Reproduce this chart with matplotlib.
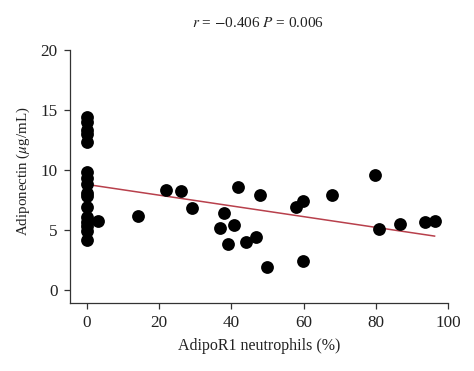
import numpy as np
import matplotlib
matplotlib.use("Agg")
from matplotlib import pyplot as plt

# AdipoR1 neutrophils (%) vs adiponectin (ug/mL)
adipor1 = [0, 0, 0, 0, 0, 0, 0, 0, 0, 0, 0, 0, 0, 0, 0, 0,
           3, 14, 22, 26, 29, 37.9, 36.8, 40.8, 39, 41.9, 44, 46.9, 47.8,
           49.8, 57.8, 59.8, 59.8, 67.8, 79.9, 80.8, 86.7, 93.6, 96.3]
adiponectin = [14.4, 14.0, 13.3, 13.0, 12.3, 9.8, 9.3, 8.8, 8.1, 7.8, 6.9, 6.1, 5.7, 5.3, 4.9, 4.2,
               5.75, 6.2, 8.35, 8.25, 6.8, 6.45, 5.15, 5.45, 3.8, 8.55, 4.0, 4.45, 7.95,
               1.9, 6.9, 7.4, 2.4, 7.95, 9.6, 5.05, 5.5, 5.65, 5.75]

fit_intercept = 8.8
fit_slope = -0.0447
fit_x = [0, 96.3]

plt.rcParams['font.family'] = ['Liberation Serif', 'DejaVu Serif']
plt.rcParams['font.size'] = 11.5
plt.rcParams['mathtext.fontset'] = 'stix'

fig = plt.figure(figsize=(4.74, 3.71), dpi=100)
ax = fig.add_axes([0.1477, 0.1833, 0.7973, 0.6818])

ax.scatter(adipor1, adiponectin, s=85, color='black', zorder=3, linewidths=0)
fx = np.array(fit_x)
ax.plot(fx, fit_intercept + fit_slope * fx, color='#b8404c', lw=1.1, zorder=2)

ax.set_xlim(-4.7, 100)
ax.set_ylim(-1.08, 20)
ax.set_xticks([0, 20, 40, 60, 80, 100])
ax.set_yticks([0, 5, 10, 15, 20])

for s in ['top', 'right']:
    ax.spines[s].set_visible(False)
for s in ['left', 'bottom']:
    ax.spines[s].set_color('#333333')
    ax.spines[s].set_linewidth(0.9)
ax.tick_params(direction='out', length=4, width=0.9, color='#333333', labelcolor='#222222',
               pad=5, labelsize=12.3)

ax.set_xlabel('AdipoR1 neutrophils (%)', color='#222222', labelpad=5)
ax.set_ylabel(r'Adiponectin ($\mu$g/mL)', color='#222222', fontsize=10.8)
ax.yaxis.set_label_coords(-0.10, 0.52)
fig.text(0.545, 0.938, r'$r$ = $-$0.406 $P$ = 0.006', ha='center', va='center',
         color='#222222', fontsize=11)

fig.savefig('out.png', dpi=100)
